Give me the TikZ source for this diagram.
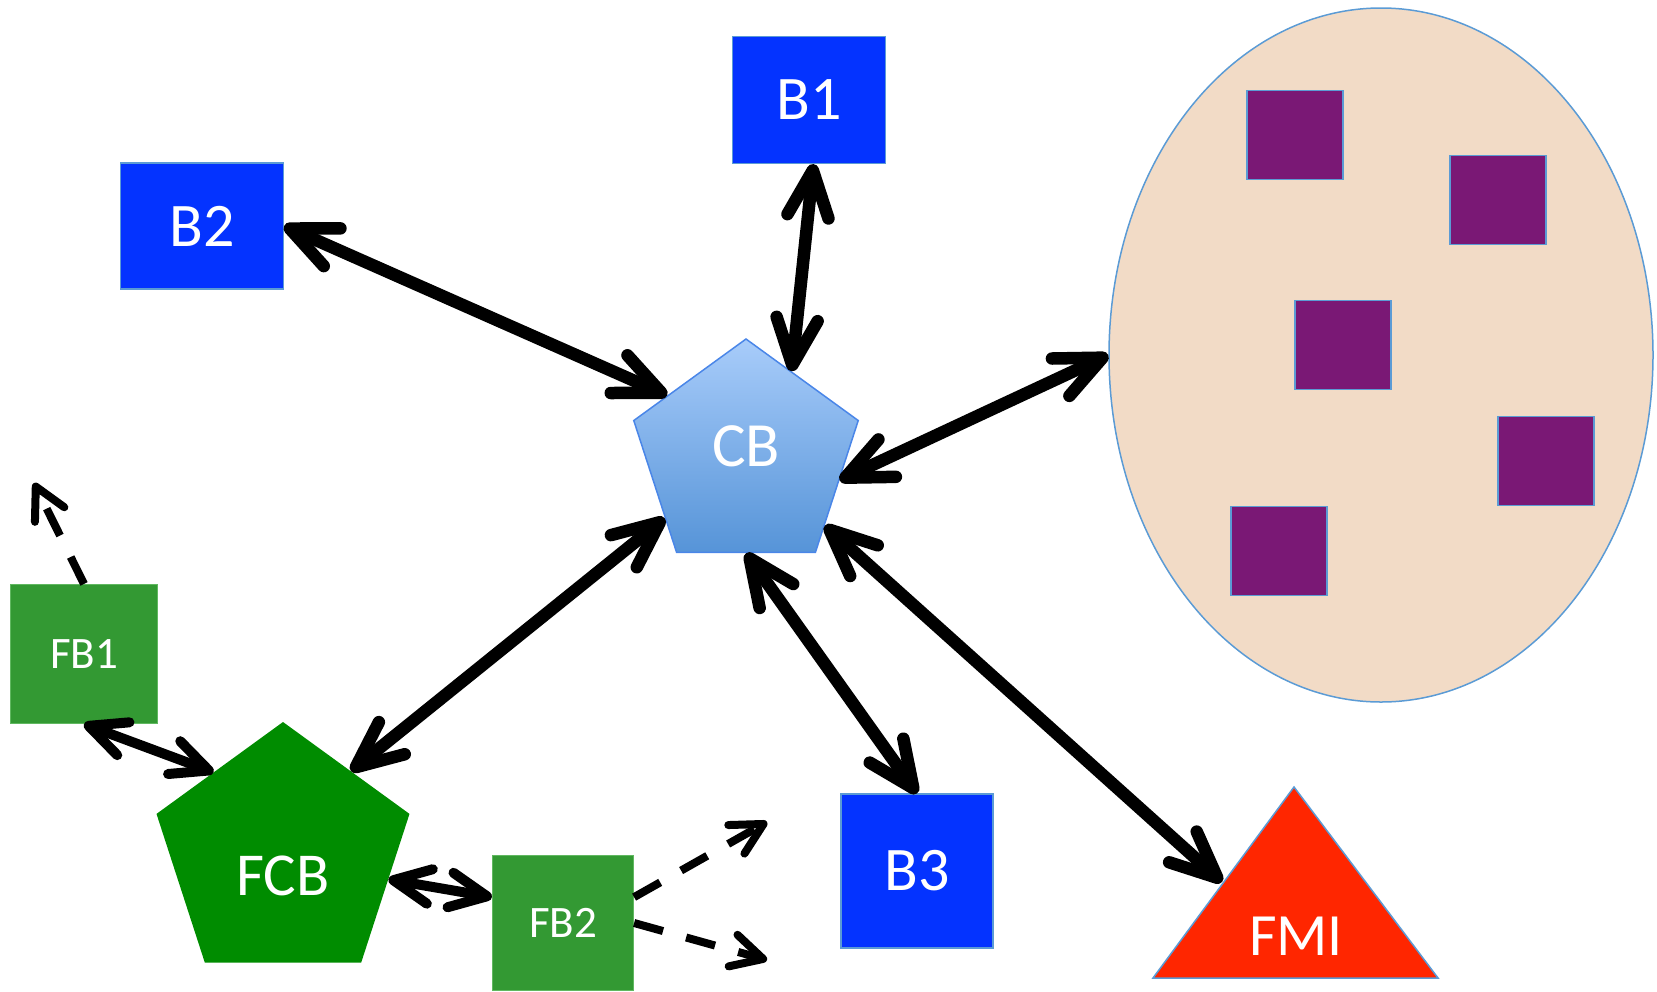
\documentclass[tikz,border=0pt]{standalone}
\usepackage{fontspec}
\setmainfont{Carlito}
\usetikzlibrary{shapes.geometric, arrows.meta}

\definecolor{boxblue}{RGB}{4,51,255}
\definecolor{rimblue}{RGB}{91,155,213}
\definecolor{cbtop}{RGB}{168,204,250}
\definecolor{cbbottom}{RGB}{86,148,216}
\definecolor{cbrim}{RGB}{74,134,232}
\definecolor{fcbgreen}{RGB}{0,140,0}
\definecolor{fbgreen}{RGB}{51,153,51}
\definecolor{fbrim}{RGB}{96,184,96}
\definecolor{fmired}{RGB}{255,38,0}
\definecolor{poolfill}{RGB}{242,219,198}
\definecolor{chippurple}{RGB}{122,24,117}

\tikzset{
  bluebox/.style={rectangle, fill=boxblue, draw=rimblue, line width=1.2pt, inner sep=0pt, text=white, font=\fontsize{62}{62}\selectfont},
  greenbox/.style={rectangle, fill=fbgreen, draw=fbrim, line width=1.2pt, inner sep=0pt, text=white, font=\fontsize{45}{45}\selectfont},
  cbshape/.style={regular polygon, regular polygon sides=5, minimum size=236pt, inner sep=0pt, top color=cbtop, bottom color=cbbottom, draw=cbrim, line width=1.5pt},
  fcbshape/.style={regular polygon, regular polygon sides=5, minimum size=266pt, inner sep=0pt, fill=fcbgreen},
  pool/.style={ellipse, fill=poolfill, draw=rimblue, line width=1.5pt, minimum width=544pt, minimum height=694pt, inner sep=0pt},
  chip/.style={rectangle, fill=chippurple, draw=rimblue, line width=1.5pt, minimum width=96pt, minimum height=89pt, inner sep=0pt},
  lbl/.style={text=white, inner sep=0pt},
  link/.style={line width=12.5pt, {Straight Barb[length=0pt 3.7, width=0pt 3.3, round]}-{Straight Barb[length=0pt 3.7, width=0pt 3.3, round]}},
  slink/.style={line width=10pt, {Straight Barb[length=0pt 3.7, width=0pt 3.5, round]}-{Straight Barb[length=0pt 3.7, width=0pt 3.5, round]}},
  dlink/.style={line width=8pt, dash pattern=on 30pt off 24pt, -{Straight Barb[length=0pt 3.9, width=0pt 4.1, round]}}
}

\begin{document}
\begin{tikzpicture}[x=1pt, y=-1pt]
\useasboundingbox (0,0) rectangle (1657,991);

% Caixas azuis
\node[bluebox, minimum width=153pt, minimum height=127pt] (b1) at (809,100) {B1};
\node[bluebox, minimum width=163pt, minimum height=126pt] (b2) at (202,226) {B2};
\node[bluebox, minimum width=152pt, minimum height=154pt] (b3) at (917,871) {B3};

% Pentagono central
\node[cbshape] (cb) at (746,457) {};
\node[lbl, font=\fontsize{63}{63}\selectfont] (cblabel) at (746,446) {CB};

% Conjunto com os quadrados
\node[pool] (pool) at (1381,355) {};
\node[chip] (chip1) at (1295,135) {};
\node[chip] (chip2) at (1498,200) {};
\node[chip] (chip3) at (1343,345) {};
\node[chip] (chip4) at (1546,461) {};
\node[chip] (chip5) at (1279,551) {};

% Triangulo FMI
\fill[fmired, draw=rimblue, line width=1.5pt] (1294,787) -- (1438,978) -- (1153,978) -- cycle;
\node[lbl, font=\fontsize{60}{60}\selectfont] (fmi) at (1296,936) {FMI};
\coordinate (fmiedge) at (1222,882);

% Parte verde
\node[fcbshape] (fcb) at (283,855) {};
\node[lbl, font=\fontsize{61}{61}\selectfont] (fcblabel) at (283,876) {FCB};
\node[greenbox, minimum width=147pt, minimum height=139pt] (fb1) at (84,654) {FB1};
\node[greenbox, minimum width=141pt, minimum height=135pt] (fb2) at (563,923) {FB2};

% Pontas soltas
\coordinate (fb1out) at (34,483);
\coordinate (fb2up) at (767,822);
\coordinate (fb2down) at (767,960);

% Ligacoes
\draw[link] (b2.east) -- (cb.142);
\draw[link] (b1.-86) -- (cb.62);
\draw[link] (cb.-14) -- (pool.west);
\draw[link] (cb.217) -- (fcb.51);
\draw[link] (cb.south) -- (b3.north);
\draw[link] (cb.-41) -- (fmiedge);
\draw[slink] (fb1.south) -- (fcb.130);
\draw[slink] (fcb.-13) -- (fb2.160);
\draw[dlink] (fb1.north) -- (fb1out);
\draw[dlink] (fb2.20) -- (fb2up);
\draw[dlink] (fb2.east) -- (fb2down);

\end{tikzpicture}
\end{document}
